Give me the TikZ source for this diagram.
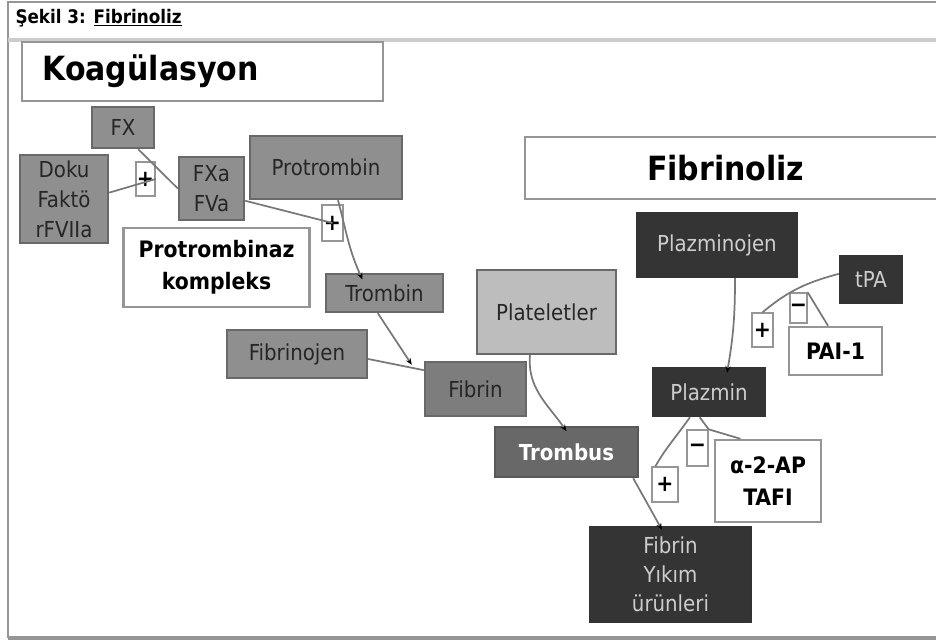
\documentclass[tikz,border=0pt]{standalone}
\usepackage{fontspec}
\setmainfont{DejaVu Sans Condensed}
\usetikzlibrary{arrows.meta}

\definecolor{gfill}{RGB}{143,143,143}
\definecolor{gdraw}{RGB}{105,105,105}
\definecolor{fibfill}{RGB}{125,125,125}
\definecolor{platfill}{RGB}{189,189,189}
\definecolor{trfill}{RGB}{104,104,104}
\definecolor{dkfill}{RGB}{52,52,52}
\definecolor{dktext}{RGB}{205,205,205}
\definecolor{wdraw}{RGB}{150,150,150}
\definecolor{lnkgray}{RGB}{120,120,120}

\tikzset{every picture/.style={line width=0.75pt}}
\tikzset{
  gbox/.style={draw=gdraw, fill=gfill, line width=1.8pt, inner sep=0.75pt, align=center,
    text=black!85, font=\fontsize{16.5}{22.5}\selectfont},
  dbox/.style={gbox, fill=dkfill, draw=black!80, text=dktext},
  wbox/.style={draw=wdraw, fill=white, line width=1.8pt, inner sep=0.75pt, align=center,
    font=\bfseries\fontsize{17}{24}\selectfont},
  sign/.style={draw=wdraw, fill=white, line width=1pt, inner sep=0pt,
    font=\bfseries\fontsize{17}{17}\selectfont},
  lnk/.style={draw=lnkgray, line width=1.3pt},
  arr/.style={lnk, -{Stealth[length=5pt,width=4pt,black]}},
}

\begin{document}
\begin{tikzpicture}[x=0.75pt,y=0.75pt,yscale=-1,xscale=1]
\useasboundingbox (0,0) rectangle (936,642);
%Frame
\draw [color=wdraw, line width=1.8pt] (8,638) -- (8,2) -- (936,2);
\draw [color=black!20, line width=3pt] (8,40) -- (936,40);
\draw [color=wdraw, line width=2.5pt] (8,638) -- (936,638);
% Text Node
\node [anchor=west, inner sep=0.75pt, font=\bfseries\fontsize{14}{16}\selectfont] (hdr) at (14,18) {Şekil 3: \underline{Fibrinoliz}};

%Shape: Rectangle
\node [wbox, minimum width=270.75pt, minimum height=44.25pt, text width=240pt, align=left, inner xsep=15.4pt,
  font=\bfseries\fontsize{25}{28}\selectfont] (koag) at (202.5,71.5) {Koagülasyon};
\node [wbox, minimum width=315pt, minimum height=46.5pt, text width=132pt, align=left, inner xsep=91.5pt,
  font=\bfseries\fontsize{25}{28}\selectfont] (fibrinoliz) at (735,168) {Fibrinoliz};

%Coagulation side
\node [gbox, minimum width=46.5pt, minimum height=30.75pt] (fx) at (123,127.5) {FX};
\node [gbox, minimum width=66pt, minimum height=66pt] (doku) at (64,199) {Doku\\Faktö\\rFVIIa};
\node [sign, minimum width=14.25pt, minimum height=25.5pt] (plusA) at (145.5,179) {+};
\node [gbox, minimum width=48.75pt, minimum height=47.25pt] (fxa) at (211.5,188.5) {FXa\\FVa};
\node [gbox, minimum width=114pt, minimum height=47.25pt] (protrombin) at (326,167.5) {Protrombin};
\node [sign, minimum width=15.75pt, minimum height=27pt] (plusB) at (332.5,223) {+};
\node [wbox, minimum width=139.5pt, minimum height=59.25pt] (pkompleks) at (216.5,267.5) {Protrombinaz\\kompleks};
\node [gbox, minimum width=87.75pt, minimum height=28.5pt] (trombin) at (384.5,293) {Trombin};
\node [gbox, minimum width=105pt, minimum height=36pt] (fibrinojen) at (297,354) {Fibrinojen};
\node [gbox, fill=fibfill, minimum width=75.75pt, minimum height=40.5pt] (fibrin) at (475.5,389) {Fibrin};
\node [gbox, fill=platfill, minimum width=104.25pt, minimum height=63pt] (plateletler) at (546.5,312) {Plateletler};
\node [gbox, fill=trfill, draw=black!65, text=white, minimum width=107.25pt, minimum height=37.5pt,
  font=\bfseries\fontsize{16.5}{22.5}\selectfont] (trombus) at (566.5,452) {Trombus};

%Fibrinolysis side
\node [dbox, minimum width=120pt, minimum height=48pt] (plazminojen) at (717,245) {Plazminojen};
\node [dbox, minimum width=46.5pt, minimum height=35.25pt] (tpa) at (871,279.5) {tPA};
\node [sign, minimum width=12.75pt, minimum height=22.5pt] (minusA) at (798.5,308) {−};
\node [wbox, minimum width=69.75pt, minimum height=36pt] (pai) at (835.5,351) {PAI-1};
\node [sign, minimum width=15.75pt, minimum height=25.5pt] (plusC) at (762.5,330) {+};
\node [dbox, minimum width=84pt, minimum height=36pt] (plazmin) at (709,392) {Plazmin};
\node [sign, minimum width=15.75pt, minimum height=27pt] (minusB) at (697.5,448) {−};
\node [wbox, minimum width=79.5pt, minimum height=61.5pt] (alfa) at (768,481) {α-2-AP\\TAFI};
\node [sign, minimum width=19.5pt, minimum height=26.25pt] (plusD) at (665,484.5) {+};
\node [dbox, minimum width=120.75pt, minimum height=71.25pt, font=\fontsize{16.5}{21.75}\selectfont] (fyu) at (670.5,574.5) {Fibrin\\Yıkım\\ürünleri};

%Straight Lines
\draw [lnk] (fx.-55) -- (fxa.west);
\draw [lnk] (doku.8) -- (plusA.east);
\draw [lnk] (fxa.-20) -- (plusB.center);
\draw [lnk] (fibrinojen.-4) -- (fibrin.160);
\draw [arr] ([xshift=-5pt]trombin.south) -- ([xshift=-9pt,yshift=3pt]fibrin.north west);
\draw [arr] ([xshift=-4.5pt]trombus.south east) -- ([xshift=-6.4pt,yshift=3pt]fyu.north);
\draw [lnk] ([xshift=-5.6pt]pai.north) -- (minusA.north east);
\draw [lnk] ([xshift=-7pt]plazmin.south) -- (minusB.north east) -- ([xshift=20pt]alfa.north west);
%Curve Lines
\draw [arr] ([xshift=9pt]protrombin.south) to[out=75,in=245] ([xshift=-16.5pt,yshift=5pt]trombin.north);
\draw [arr] ([xshift=-12.4pt]plateletler.south) to[out=95,in=235] ([yshift=4pt]trombus.north);
\draw [arr] ([xshift=13.5pt]plazminojen.south) to[out=90,in=280] ([xshift=13.5pt,yshift=4.5pt]plazmin.north);
\draw [lnk] (tpa.170) to[out=165,in=-40] (plusC.north);
\draw [lnk] ([xshift=-14.25pt]plazmin.south) to[out=125,in=-60] ([xshift=3pt]plusD.north west);
\end{tikzpicture}
\end{document}
